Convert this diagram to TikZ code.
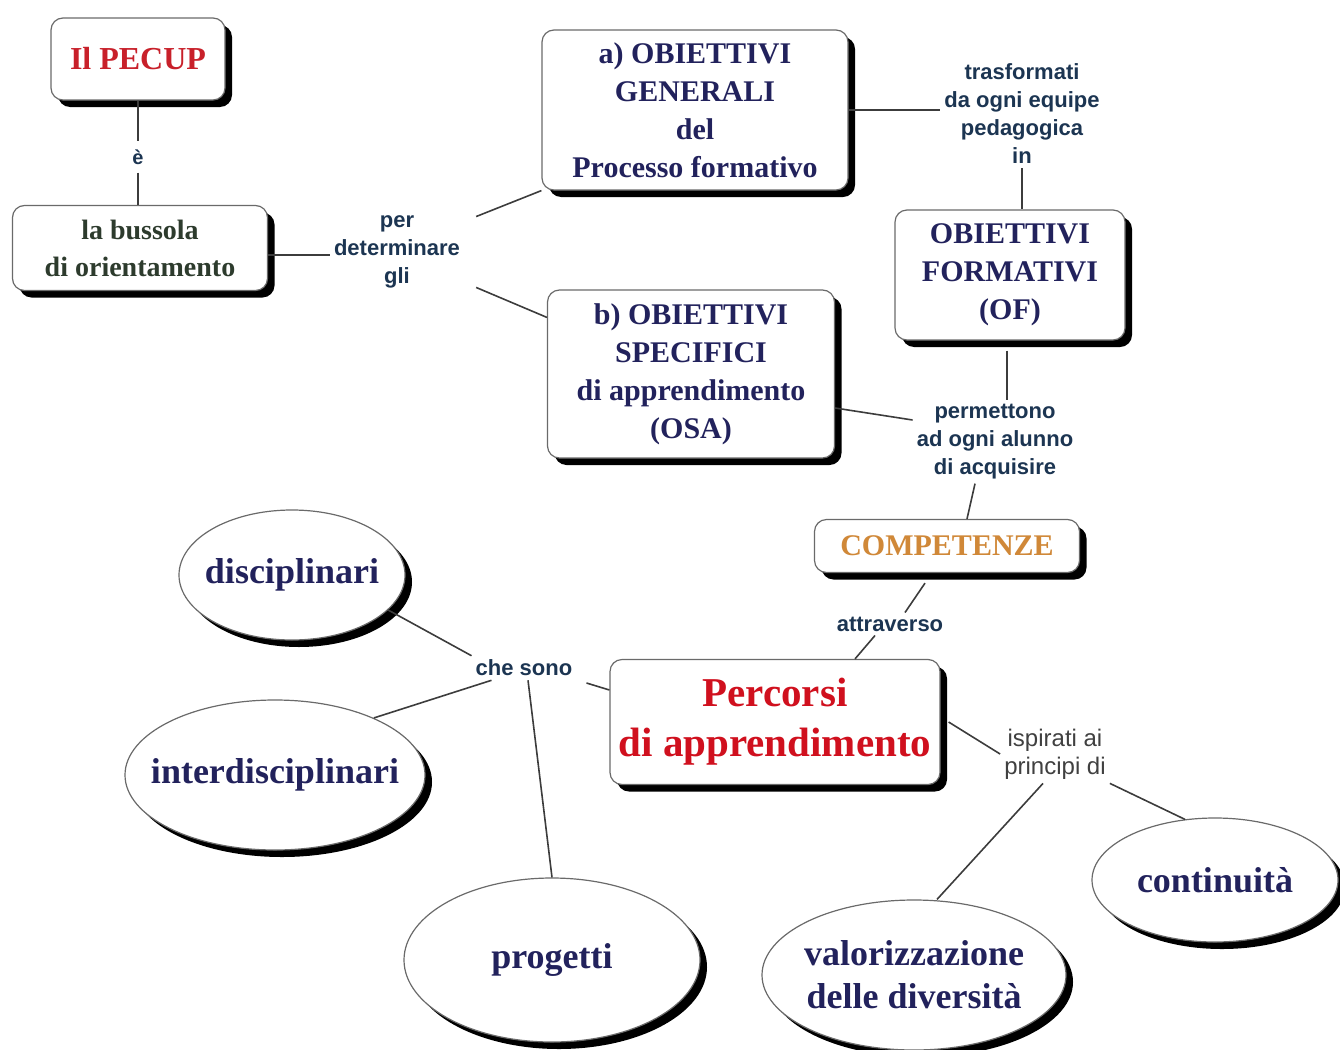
\documentclass[tikz,border=0pt]{standalone}
\usepackage{fontspec}
\setmainfont{Liberation Serif}
\newfontfamily\labfont{Liberation Sans}
\usetikzlibrary{shadows,shapes.geometric,calc}
\definecolor{navy}{HTML}{22225C}
\definecolor{boxgray}{HTML}{6A6A6A}
\definecolor{linegray}{HTML}{3C3C3C}
\definecolor{labcol}{HTML}{1C3552}
\definecolor{pecred}{HTML}{C8202A}
\definecolor{percred}{HTML}{D0101E}
\definecolor{compor}{HTML}{D08838}
\definecolor{busscol}{HTML}{2D3B2D}
\begin{document}
\begin{tikzpicture}[x=1pt,y=-1pt,
 box/.style={draw=boxgray, line width=1.2pt, rounded corners=12pt, fill=white,
   drop shadow={shadow xshift=7pt,shadow yshift=-7pt,fill=black,opacity=1},
   align=center, inner sep=0pt, font=\bfseries\fontsize{30}{38}\selectfont, text=navy},
 ell/.style={ellipse, draw=boxgray, line width=1.2pt, fill=white,
   drop shadow={shadow xshift=7pt,shadow yshift=-7pt,fill=black,opacity=1}, inner sep=0pt},
 elltext/.style={font=\bfseries\fontsize{36}{43}\selectfont, text=navy, align=center, inner sep=0pt},
 lab/.style={font=\labfont\bfseries\fontsize{22}{28}\selectfont, text=labcol, align=center, inner sep=4pt},
 conn/.style={draw=linegray, line width=1.6pt}
]
\useasboundingbox (0,0) rectangle (1340,1049);

% boxes
\node[box, minimum width=174pt, minimum height=82pt, text=pecred, font=\bfseries\fontsize{32}{38}\selectfont] (pecup) at (138,59) {Il PECUP};
\node[box, minimum width=255pt, minimum height=85pt, text=busscol, font=\bfseries\fontsize{28}{37}\selectfont] (buss) at (140,248) {la bussola\\di orientamento};
\node[box, minimum width=306pt, minimum height=160pt] (a) at (695,110) {a) OBIETTIVI\\GENERALI\\del\\Processo formativo};
\node[box, minimum width=230pt, minimum height=130pt] (of) at (1010,275) {OBIETTIVI\\FORMATIVI\\(OF)};
\node[box, minimum width=287pt, minimum height=168pt] (b) at (691,374) {b) OBIETTIVI\\SPECIFICI\\di apprendimento\\(OSA)};
\node[box, minimum width=265pt, minimum height=53pt, text=compor] (comp) at (947,546) {COMPETENZE};
\node[box, minimum width=330pt, minimum height=125pt, text=percred, font=\bfseries\fontsize{41}{50}\selectfont] (perc) at (775,722) {Percorsi\\di apprendimento};

% ellipses
\node[ell, minimum width=226pt, minimum height=130pt] (disc) at (292,575) {};
\node[elltext] at (disc) {disciplinari};
\node[ell, minimum width=300pt, minimum height=150pt] (inter) at (275,775) {};
\node[elltext] at (inter) {interdisciplinari};
\node[ell, minimum width=296pt, minimum height=164pt] (prog) at (552,960) {};
\node[elltext] at (prog) {progetti};
\node[ell, minimum width=304pt, minimum height=150pt] (valor) at (914,975) {};
\node[elltext] at (valor) {valorizzazione\\delle diversità};
\node[ell, minimum width=246pt, minimum height=124pt] (cont) at (1215,880) {};
\node[elltext] at (cont) {continuità};

% labels
\node[lab, font=\labfont\bfseries\fontsize{20}{24}\selectfont, inner sep=8pt] (e) at (138,157) {è};
\node[lab] (per) at (397,252) {per\\determinare\\gli};
\node[lab] (tras) at (1022,114) {trasformati\\da ogni equipe\\pedagogica\\in};
\node[lab] (perm) at (995,442) {permettono\\ad ogni alunno\\di acquisire};
\node[lab] (attr) at (890,624) {attraverso};
\node[lab] (che) at (524,668) {che sono};
\node[lab, font=\labfont\fontsize{24}{28}\selectfont, text=black!75] (isp) at (1055,754) {ispirati ai\\principi di};

% connectors
\draw[conn] (pecup.south) -- (pecup.south |- e.north);
\draw[conn] (e.south) -- (e.south |- buss.north);
\draw[conn] ([yshift=-7pt]buss.east) -- ([yshift=-3pt]per.west);
\draw[conn] ([xshift=12pt,yshift=-5pt]per.north east) -- (a.south west);
\draw[conn] ([xshift=12pt,yshift=5pt]per.south east) -- ([yshift=-28pt]b.north west);
\draw[conn] (a.east) -- (tras.west |- a.east);
\draw[conn] (tras.south) -- (tras.south |- of.north);
\draw[conn] ([xshift=-3pt,yshift=-10pt]of.south) -- ([xshift=-3pt]of.south |- perm.north);
\draw[conn] ([yshift=-34pt]b.east) -- ([yshift=22pt]perm.west);
\draw[conn] ([xshift=-20pt]perm.south) -- ([xshift=20pt]comp.north);
\draw[conn] ([xshift=-22pt,yshift=-10pt]comp.south) -- ([xshift=15pt]attr.north);
\draw[conn] ([xshift=-15pt]attr.south) -- ([xshift=80pt]perc.north);
\draw[conn] ([xshift=10pt,yshift=-15pt]che.east) -- ([yshift=32pt]perc.west);
\draw[conn] (disc.-20) -- (che.north west);
\draw[conn] (inter.30) -- ([xshift=20pt]che.south west);
\draw[conn] ([xshift=4pt]che.south) -- (prog.north);
\draw[conn] ([xshift=8pt]perc.east) -- (isp.west);
\draw[conn] ([xshift=-12pt]isp.south) -- ([xshift=23pt]valor.north);
\draw[conn] (isp.south east) -- ([xshift=-30pt,yshift=-2pt]cont.north);
\end{tikzpicture}
\end{document}
